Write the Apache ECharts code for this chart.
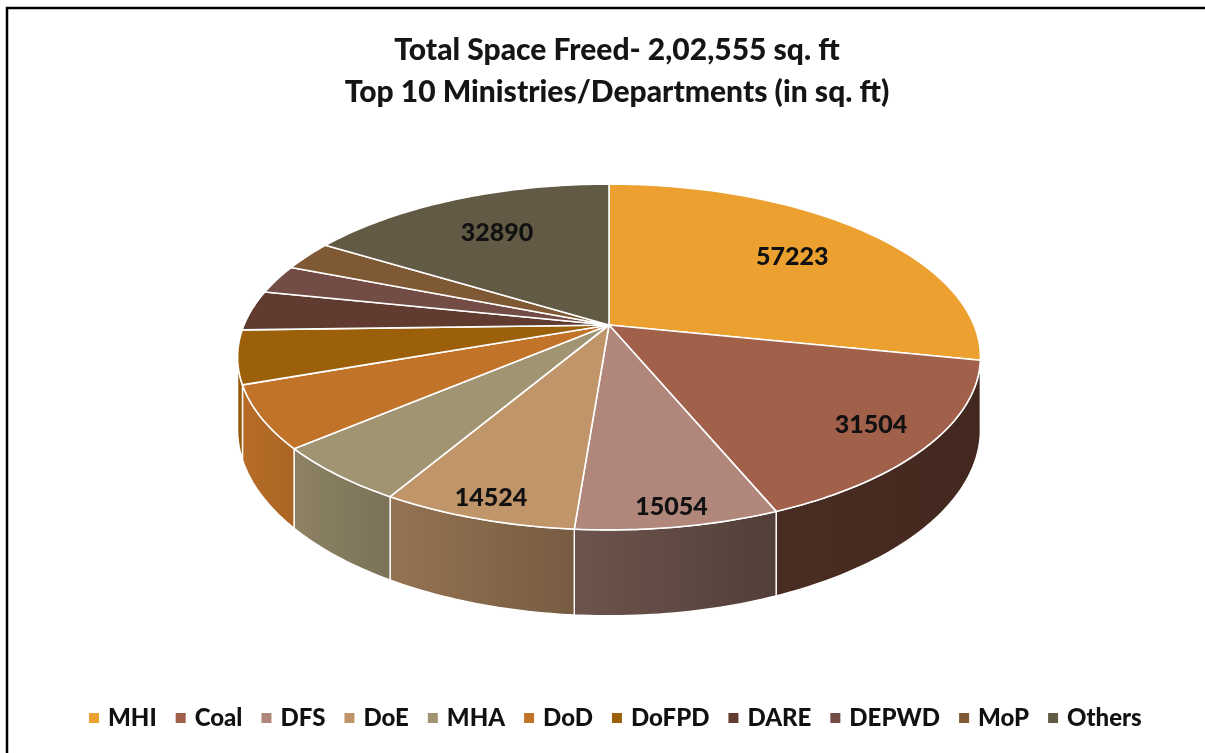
<!DOCTYPE html>
<html>
<head>
<meta charset="utf-8">
<script src="https://cdn.jsdelivr.net/npm/echarts@6/dist/echarts.min.js"></script>
<style>
html, body { margin: 0; padding: 0; background: #fff; }
#main { width: 1205px; height: 753px; }
</style>
</head>
<body>
<div id="main"></div>
<script>
var categories = ['MHI', 'Coal', 'DFS', 'DoE', 'MHA', 'DoD', 'DoFPD', 'DARE', 'DEPWD', 'MoP', 'Others'];
var spaceFreed = [57223, 31504, 15054, 14524, 10750, 11800, 10130, 7600, 5460, 5620, 32890];
var colors = ['#EBA02F', '#A0604A', '#B0877A', '#C0956A', '#A09472', '#C17329', '#9C5F0A', '#613A30', '#734D45', '#7E5934', '#625A45'];
var titleLines = ['Total Space Freed- 2,02,555 sq. ft', 'Top 10 Ministries/Departments (in sq. ft)'];

var chart = echarts.init(document.getElementById('main'));

var total = 0;
var starts = [];
spaceFreed.forEach(function (v) { starts.push(total); total += v; });

// tilted disc with a bit of perspective
var cx = 609, cy = 325, ax = 365, by = 167, persp = 0.185, depth = 70;
var sideFrom = Math.acos(-persp), sideTo = 2 * Math.PI - Math.acos(-persp);

function proj(phi, r) {
    var u = r * Math.sin(phi), v = -r * Math.cos(phi);
    var k = 1 - persp * v;
    return [cx + ax * u / k, cy + by * v / k];
}
function drop(phi) {
    return depth / (1 + persp * Math.cos(phi));
}
function shade(hex, f) {
    var n = parseInt(hex.slice(1), 16);
    return 'rgb(' + Math.round(((n >> 16) & 255) * f) + ',' + Math.round(((n >> 8) & 255) * f) + ',' + Math.round((n & 255) * f) + ')';
}
function light(phi) {
    var d = phi * 180 / Math.PI;
    return Math.min(0.95, Math.max(0.42, 0.42 + (d - 150) * 0.0058));
}

function makeRender(i) {
    return function (params, api) {
        var val = api.value(0);
        var a0 = starts[i] / total * 2 * Math.PI;
        var a1 = (starts[i] + val) / total * 2 * Math.PI;
        var col = colors[i];
        var kids = [];

        // top face
        var top = [[cx, cy]];
        var n = Math.max(2, Math.ceil((a1 - a0) * 180 / Math.PI));
        for (var s = 0; s <= n; s++) top.push(proj(a0 + (a1 - a0) * s / n, 1));
        kids.push({
            type: 'polygon', z2: 10,
            shape: { points: top },
            style: { fill: col, stroke: '#fff', lineWidth: 1.6, lineJoin: 'round' }
        });

        // front wall
        var s0 = Math.max(a0, sideFrom), s1 = Math.min(a1, sideTo);
        if (s1 > s0) {
            var upper = [], lower = [];
            var m = Math.max(2, Math.ceil((s1 - s0) * 180 / Math.PI));
            for (var t = 0; t <= m; t++) {
                var ph = s0 + (s1 - s0) * t / m;
                var pt = proj(ph, 1);
                upper.push(pt);
                lower.unshift([pt[0], pt[1] + drop(ph)]);
            }
            var xs = upper.map(function (q) { return q[0]; });
            var xl = Math.min.apply(null, xs), xr = Math.max.apply(null, xs);
            kids.push({
                type: 'polygon', z2: 1,
                shape: { points: upper.concat(lower) },
                style: {
                    fill: new echarts.graphic.LinearGradient(xl, 0, xr, 0, [
                        { offset: 0, color: shade(col, light(s1)) },
                        { offset: 1, color: shade(col, light(s0)) }
                    ], true),
                    stroke: '#fff', lineWidth: 1.4
                }
            });
        }

        // value label
        if (val >= 14000) {
            var mid = (a0 + a1) / 2;
            var lp = proj(mid, 0.7 + 0.22 * Math.max(0, -Math.cos(mid)));
            kids.push({
                type: 'text', z2: 20,
                style: {
                    text: String(val), x: lp[0], y: lp[1],
                    fill: '#111', font: '900 25px Lato',
                    align: 'center', verticalAlign: 'middle'
                }
            });
        }
        return { type: 'group', children: kids };
    };
}

var series = categories.map(function (name, i) {
    return {
        type: 'custom',
        name: name,
        coordinateSystem: 'none',
        itemStyle: { color: colors[i] },
        renderItem: makeRender(i),
        data: [[spaceFreed[i]]]
    };
});

chart.setOption({
    animation: false,
    title: {
        text: titleLines.join('\n'),
        left: 612,
        textAlign: 'center',
        top: 24,
        textStyle: { fontFamily: 'Lato', fontSize: 30, fontWeight: 900, lineHeight: 42, color: '#151515' }
    },
    legend: {
        data: categories,
        top: 701,
        left: 84,
        icon: 'rect',
        itemWidth: 10,
        itemHeight: 10,
        itemGap: 19,
        textStyle: { fontFamily: 'Lato', fontSize: 24, fontWeight: 900, color: '#111', padding: [0, 0, 0, 4] }
    },
    graphic: [{
        type: 'polyline',
        shape: { points: [[7, 753], [7, 8], [1205, 8]] },
        style: { stroke: '#000', lineWidth: 2.5, fill: null }
    }],
    series: series
});
</script>
</body>
</html>
